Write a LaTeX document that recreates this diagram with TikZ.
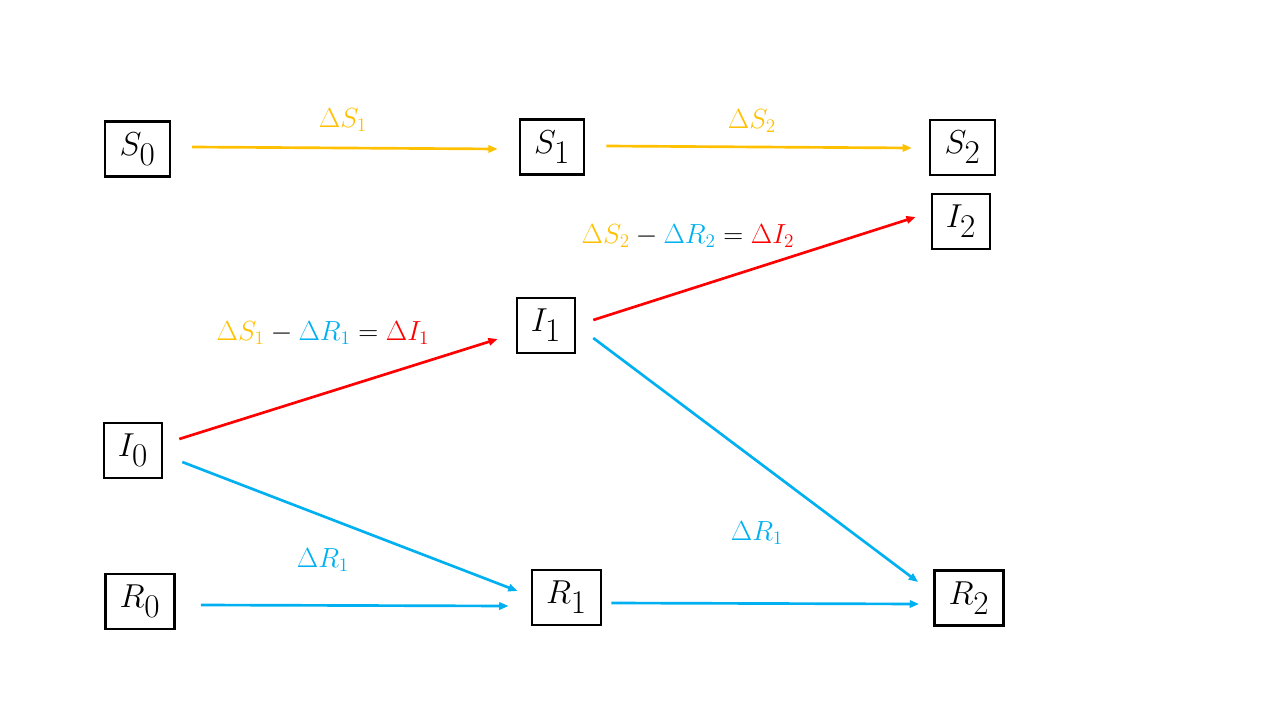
\documentclass[tikz,border=0pt]{standalone}
\usetikzlibrary{calc,arrows.meta}
\definecolor{yel}{HTML}{FFC000}
\definecolor{blu}{HTML}{00B0F0}
\definecolor{rd}{HTML}{FF0000}
\tikzset{
  box/.style={draw=black, line width=1.9pt, inner sep=0pt, minimum height=41pt, font=\fontsize{33}{38}\selectfont},
  conn/.style={line width=2pt, -{Triangle[length=7pt,width=5.5pt]}},
  lbl/.style={font=\fontsize{21}{25}\selectfont}
}
\begin{document}
\begin{tikzpicture}[x=0.75pt,y=-0.75pt]
\useasboundingbox (0,0) rectangle (1280,720);
\node[box, minimum width=48.5pt] (S0) at (137.5,149) {$S_0$};
\node[box, minimum width=48pt] (S1) at (552,147) {$S_1$};
\node[box, minimum width=48.5pt] (S2) at (962.5,147.5) {$S_2$};
\node[box, minimum width=43.5pt] (I2) at (961,221.5) {$I_2$};
\node[box, minimum width=43.5pt] (I1) at (546,325.5) {$I_1$};
\node[box, minimum width=43.5pt] (I0) at (133,450.5) {$I_0$};
\node[box, minimum width=52pt] (R0) at (140,601.5) {$R_0$};
\node[box, minimum width=52pt] (R1) at (566.5,597.5) {$R_1$};
\node[box, minimum width=52pt] (R2) at (969,598) {$R_2$};

\draw[conn, yel] ($(S0.east)+(21,-2)$) -- ($(S1.west)+(-21,2)$);
\draw[conn, yel] ($(S1.east)+(21,-1)$) -- ($(S2.west)+(-17,0.5)$);
\draw[conn, rd] ($(I0.east)+(16,-11.5)$) -- ($(I1.west)+(-18,13.5)$);
\draw[conn, rd] ($(I1.east)+(17,-5.5)$) -- ($(I2.west)+(-15,-4.5)$);
\draw[conn, blu] ($(I0.east)+(19,11.5)$) -- ($(R1.west)+(-13,-6.5)$);
\draw[conn, blu] ($(I1.east)+(17,12.5)$) -- ($(R2.west)+(-15,-16)$);
\draw[conn, blu] ($(R0.east)+(25,3.5)$) -- ($(R1.west)+(-22,8.5)$);
\draw[conn, blu] ($(R1.east)+(9,5.5)$) -- ($(R2.west)+(-14,6)$);

\node[lbl, text=yel] (l1) at (343,120) {$\Delta S_1$};
\node[lbl, text=yel] (l2) at (752,121) {$\Delta S_2$};
\node[lbl] (l3) at (323,333) {$\textcolor{yel}{\Delta S_1}-\textcolor{blu}{\Delta R_1}=\textcolor{rd}{\Delta I_1}$};
\node[lbl] (l4) at (688,236) {$\textcolor{yel}{\Delta S_2}-\textcolor{blu}{\Delta R_2}=\textcolor{rd}{\Delta I_2}$};
\node[lbl, text=blu] (l5) at (323,560) {$\Delta R_1$};
\node[lbl, text=blu] (l6) at (757,533) {$\Delta R_1$};
\end{tikzpicture}
\end{document}
